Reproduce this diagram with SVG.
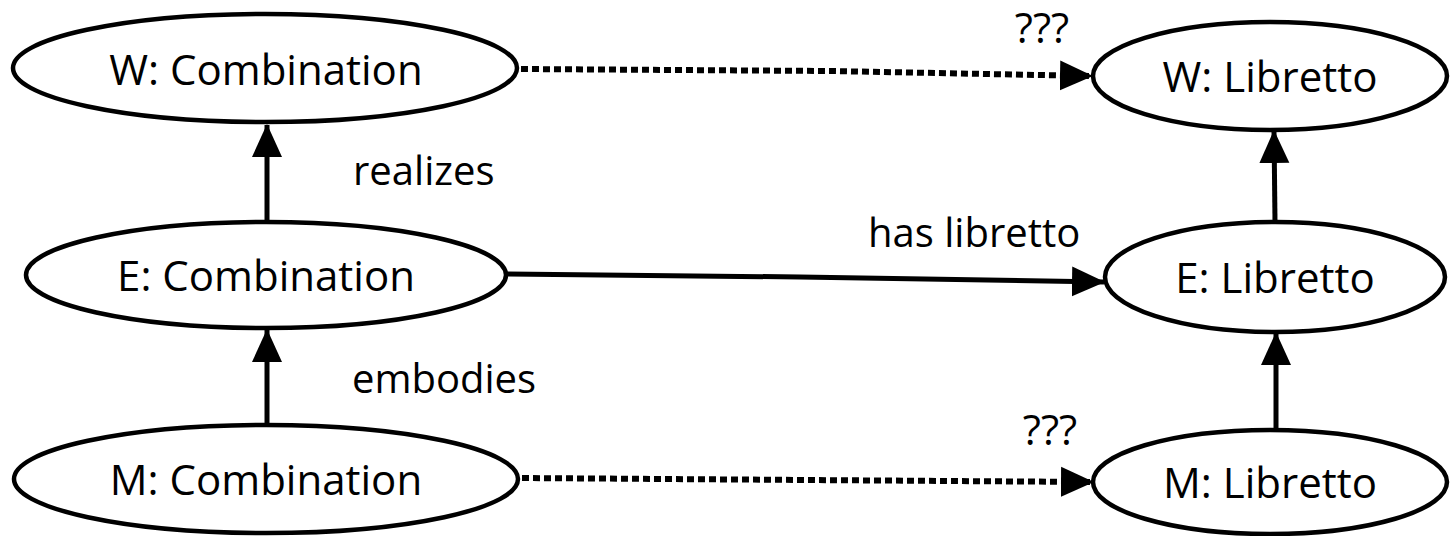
<svg xmlns="http://www.w3.org/2000/svg" width="1450" height="536" viewBox="0 0 1450 536">
<style>
.node{fill:#fff;stroke:#000;stroke-width:4.5}
.t{font-family:"Open Sans","Liberation Sans",sans-serif;font-size:42px;fill:#000;text-anchor:middle}
.lbl{font-family:"Open Sans","Liberation Sans",sans-serif;font-size:40px;fill:#000}
.q{font-family:"Open Sans","Liberation Sans",sans-serif;font-size:42px;fill:#000;text-anchor:middle}
.c{fill:none;stroke:#000;stroke-width:5}
.d{fill:none;stroke:#000;stroke-width:6;stroke-dasharray:7 4}
</style>
<defs>
<marker id="ah" markerUnits="userSpaceOnUse" markerWidth="34" markerHeight="34" viewBox="0 0 34 34" refX="32" refY="17" orient="auto">
<path d="M0,2 L33,17 L0,32 Z" fill="#000"/>
</marker>
</defs>
<rect width="1450" height="536" fill="#fff"/>
<g id="connectors">
<path class="c" d="M267,222 L267,125" marker-end="url(#ah)"/>
<path class="c" d="M267,425 L267,330" marker-end="url(#ah)"/>
<path class="c" d="M1275,222 L1274,131" marker-end="url(#ah)"/>
<path class="c" d="M1276,428 L1276,333" marker-end="url(#ah)"/>
<path class="c" d="M506,274 L800,277 L1104,282" marker-end="url(#ah)"/>
<path class="d" d="M521,69 L830,71 L1092,76" marker-end="url(#ah)"/>
<path class="d" d="M522,478 L1093,482" marker-end="url(#ah)"/>
</g>
<g id="labels">
<text class="q" x="1042" y="43">???</text>
<text class="lbl" x="353" y="185">realizes</text>
<text class="lbl" x="868" y="247">has libretto</text>
<text class="lbl" x="352" y="393">embodies</text>
<text class="q" x="1050" y="445">???</text>
</g>
<g id="w-combination"><ellipse class="node" cx="265" cy="68" rx="252" ry="54"/><text class="t" x="266" y="85">W: Combination</text></g>
<g id="w-libretto"><ellipse class="node" cx="1270" cy="76" rx="177" ry="54"/><text class="t" x="1270" y="92">W: Libretto</text></g>
<g id="e-combination"><ellipse class="node" cx="266" cy="275" rx="240" ry="53"/><text class="t" x="266" y="291">E: Combination</text></g>
<g id="e-libretto"><ellipse class="node" cx="1275" cy="277" rx="170" ry="55"/><text class="t" x="1275" y="293">E: Libretto</text></g>
<g id="m-combination"><ellipse class="node" cx="266" cy="479" rx="252" ry="54"/><text class="t" x="266" y="495">M: Combination</text></g>
<g id="m-libretto"><ellipse class="node" cx="1270" cy="482" rx="177" ry="52"/><text class="t" x="1270" y="498">M: Libretto</text></g>
</svg>
